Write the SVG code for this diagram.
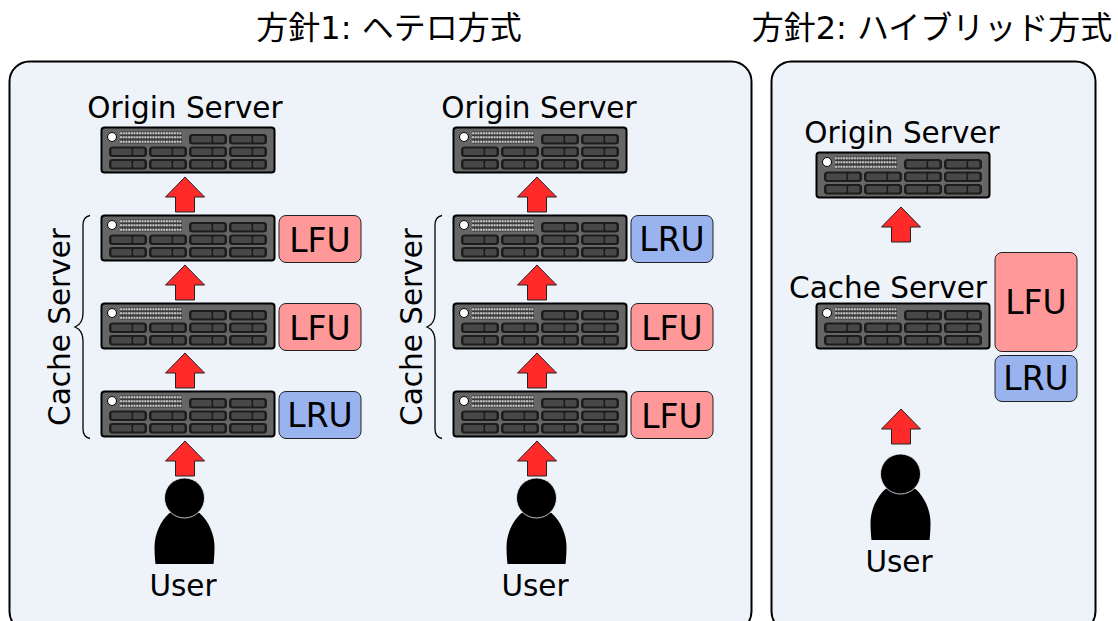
<svg xmlns="http://www.w3.org/2000/svg" width="1118" height="621" viewBox="0 0 1118 621">
<style>
text{font-family:"DejaVu Sans","Noto Sans CJK JP",sans-serif;font-size:29.500px;fill:#000;text-anchor:middle}
.panel{fill:#eef3fa;stroke:#000;stroke-width:2}
.lfu{fill:#ff9999;stroke:#222;stroke-width:1}
.lru{fill:#99b3ee;stroke:#222;stroke-width:1}
.brace{fill:none;stroke:#000;stroke-width:1.300}
.title{font-size:32px}
.lab{font-size:33px}
</style>
<defs>
<g id="bay"><rect width="38" height="10.500" rx="3.500" fill="#1c1c1c"/><rect x="2.500" y="2" width="20" height="6.500" rx="1" fill="#484848"/><rect x="24" y="2" width="11.500" height="6.500" rx="1.500" fill="#484848"/></g>
<g id="srv">
<rect x="0.500" y="0.500" width="173" height="45" rx="3" fill="#666" stroke="#000" stroke-width="2"/>
<circle cx="11" cy="10" r="4.500" fill="#fff" stroke="#000" stroke-width="1"/>
<rect x="19" y="4.500" width="62" height="12" fill="#3a3a3a"/>
<path d="M20 6.300H81M20 10.300H81M20 14.700H81" stroke="#bbb" stroke-width="2.400" stroke-linecap="round" stroke-dasharray="0 2.700" fill="none"/>
<use href="#bay" x="88" y="7"/><use href="#bay" x="128" y="7"/>
<use href="#bay" x="8" y="19.500"/><use href="#bay" x="48" y="19.500"/><use href="#bay" x="88" y="19.500"/><use href="#bay" x="128" y="19.500"/>
<use href="#bay" x="8" y="32"/><use href="#bay" x="48" y="32"/><use href="#bay" x="88" y="32"/><use href="#bay" x="128" y="32"/>
</g>
<path id="arr" d="M0 0L19.500 20H9.500V35H-9.500V20H-19.500Z" fill="#ff2a2a" stroke="#222" stroke-width="1"/>
<g id="usr">
<path d="M-15 15C-24 23-30 36-30 49C-30 56-29.500 62-29 66H29C29.500 62 30 56 30 49C30 36 24 23 15 15Z" fill="#000"/>
<circle cx="0" cy="0" r="20" fill="#000" stroke="#eef3fa" stroke-width="0.800"/>
</g>
<path id="br" d="M7 -111.500C2 -110.500 0 -107 0 -102V-14C0 -6 -3 -2 -8 0C-3 2 0 6 0 14V102C0 107 2 110.500 7 111.500" class="brace"/>
</defs>
<text class="title" x="389" y="39">方針1: ヘテロ方式</text>
<text class="title" x="932" y="39">方針2: ハイブリッド方式</text>
<rect class="panel" x="9.500" y="61.500" width="742" height="570" rx="20"/>
<rect class="panel" x="771.500" y="61.500" width="324" height="570" rx="20"/>
<g id="connectors">
<use href="#arr" x="185" y="177"/><use href="#arr" x="185" y="265"/><use href="#arr" x="185" y="353"/><use href="#arr" x="185" y="441"/>
<use href="#arr" x="537" y="177"/><use href="#arr" x="537" y="265"/><use href="#arr" x="537" y="353"/><use href="#arr" x="537" y="441"/>
<use href="#arr" x="901" y="207"/><use href="#arr" x="901" y="409"/>
<use href="#br" x="83" y="327"/><use href="#br" x="435" y="327"/>
</g>
<g id="origin1"><use href="#srv" x="101" y="127"/><text x="185" y="118">Origin Server</text></g>
<g id="cache1a"><use href="#srv" x="101" y="215"/><rect class="lfu" x="279" y="215.500" width="82" height="47" rx="7"/><text class="lab" x="320" y="252">LFU</text></g>
<g id="cache1b"><use href="#srv" x="101" y="303"/><rect class="lfu" x="279" y="303.500" width="82" height="47" rx="7"/><text class="lab" x="320" y="340">LFU</text></g>
<g id="cache1c"><use href="#srv" x="101" y="391"/><rect class="lru" x="279" y="391.500" width="82" height="47" rx="7"/><text class="lab" x="320" y="427">LRU</text></g>
<g id="label1"><text transform="translate(70 327) rotate(-90)">Cache Server</text></g>
<g id="user1"><use href="#usr" x="184.500" y="498"/><text x="183" y="596">User</text></g>
<g id="origin2"><use href="#srv" x="453" y="127"/><text x="539" y="118">Origin Server</text></g>
<g id="cache2a"><use href="#srv" x="453" y="215"/><rect class="lru" x="631" y="215.500" width="82" height="47" rx="7"/><text class="lab" x="672" y="251">LRU</text></g>
<g id="cache2b"><use href="#srv" x="453" y="303"/><rect class="lfu" x="631" y="303.500" width="82" height="47" rx="7"/><text class="lab" x="672" y="340">LFU</text></g>
<g id="cache2c"><use href="#srv" x="453" y="391"/><rect class="lfu" x="631" y="391.500" width="82" height="47" rx="7"/><text class="lab" x="672" y="428">LFU</text></g>
<g id="label2"><text transform="translate(422 327) rotate(-90)">Cache Server</text></g>
<g id="user2"><use href="#usr" x="536.500" y="498"/><text x="535" y="596">User</text></g>
<g id="origin3"><use href="#srv" x="816" y="152"/><text x="902" y="143">Origin Server</text></g>
<g id="cache3"><use href="#srv" x="816" y="303"/><text x="888" y="298">Cache Server</text>
<rect class="lfu" x="995" y="252.500" width="82" height="99" rx="7"/><text class="lab" x="1036" y="314">LFU</text>
<rect class="lru" x="995" y="355.500" width="82" height="46" rx="7"/><text class="lab" x="1036" y="390">LRU</text></g>
<g id="user3"><use href="#usr" x="900.500" y="474"/><text x="899" y="572">User</text></g>
</svg>
